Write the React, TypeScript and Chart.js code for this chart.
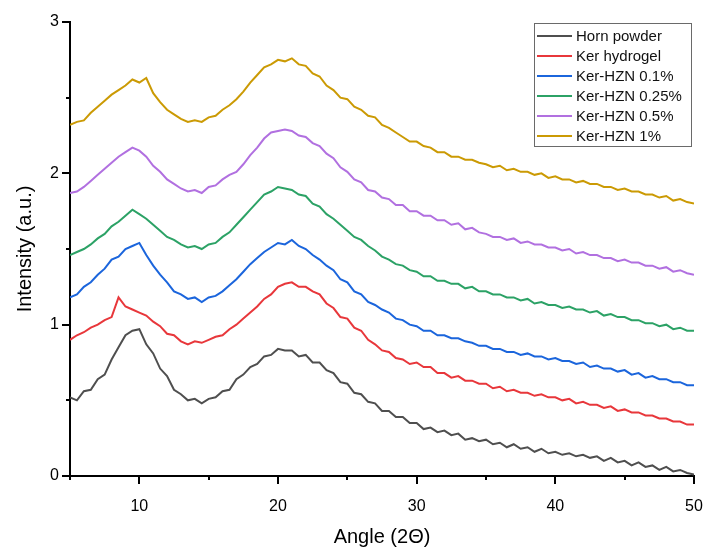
import React, { useEffect, useRef } from "react";
import { Chart, registerables } from "chart.js";

Chart.register(...registerables);

const FONT = "'Liberation Sans', Arial, sans-serif";

const ANGLE = [
  5, 5.5, 6, 6.5, 7, 7.5, 8, 8.5, 9, 9.5,
  10, 10.5, 11, 11.5, 12, 12.5, 13, 13.5, 14, 14.5,
  15, 15.5, 16, 16.5, 17, 17.5, 18, 18.5, 19, 19.5,
  20, 20.5, 21, 21.5, 22, 22.5, 23, 23.5, 24, 24.5,
  25, 25.5, 26, 26.5, 27, 27.5, 28, 28.5, 29, 29.5,
  30, 30.5, 31, 31.5, 32, 32.5, 33, 33.5, 34, 34.5,
  35, 35.5, 36, 36.5, 37, 37.5, 38, 38.5, 39, 39.5,
  40, 40.5, 41, 41.5, 42, 42.5, 43, 43.5, 44, 44.5,
  45, 45.5, 46, 46.5, 47, 47.5, 48, 48.5, 49, 49.5,
  50,
];

const HORN_POWDER = [
  0.52, 0.50, 0.56, 0.57, 0.64, 0.67, 0.77, 0.85, 0.93, 0.96,
  0.97, 0.87, 0.81, 0.71, 0.66, 0.57, 0.54, 0.50, 0.51, 0.48,
  0.51, 0.52, 0.56, 0.57, 0.64, 0.67, 0.72, 0.74, 0.79, 0.80,
  0.84, 0.83, 0.83, 0.79, 0.80, 0.75, 0.75, 0.70, 0.68, 0.62,
  0.61, 0.55, 0.54, 0.49, 0.48, 0.43, 0.43, 0.39, 0.39, 0.35,
  0.35, 0.31, 0.32, 0.29, 0.30, 0.27, 0.28, 0.24, 0.25, 0.23,
  0.24, 0.21, 0.22, 0.19, 0.21, 0.18, 0.19, 0.16, 0.18, 0.15,
  0.16, 0.14, 0.15, 0.13, 0.14, 0.12, 0.13, 0.10, 0.12, 0.09,
  0.10, 0.07, 0.09, 0.06, 0.07, 0.04, 0.06, 0.03, 0.04, 0.02,
  0.01,
];

const KER_HYDROGEL = [
  0.90, 0.93, 0.95, 0.98, 1.00, 1.03, 1.05, 1.18, 1.12, 1.10,
  1.08, 1.06, 1.02, 0.99, 0.94, 0.93, 0.89, 0.87, 0.89, 0.88,
  0.90, 0.92, 0.93, 0.97, 1.00, 1.04, 1.08, 1.12, 1.17, 1.20,
  1.25, 1.27, 1.28, 1.25, 1.25, 1.22, 1.20, 1.14, 1.11, 1.05,
  1.04, 0.98, 0.96, 0.90, 0.87, 0.83, 0.82, 0.78, 0.77, 0.74,
  0.75, 0.72, 0.72, 0.68, 0.68, 0.65, 0.66, 0.63, 0.63, 0.61,
  0.61, 0.58, 0.59, 0.56, 0.57, 0.55, 0.55, 0.53, 0.54, 0.52,
  0.52, 0.50, 0.51, 0.48, 0.49, 0.47, 0.47, 0.45, 0.46, 0.43,
  0.44, 0.42, 0.42, 0.40, 0.40, 0.38, 0.38, 0.36, 0.36, 0.34,
  0.34,
];

const KER_HZN_01 = [
  1.18, 1.20, 1.25, 1.28, 1.33, 1.37, 1.43, 1.45, 1.50, 1.52,
  1.54, 1.46, 1.39, 1.33, 1.28, 1.22, 1.20, 1.17, 1.18, 1.15,
  1.18, 1.19, 1.22, 1.26, 1.30, 1.35, 1.40, 1.44, 1.48, 1.51,
  1.54, 1.53, 1.56, 1.52, 1.50, 1.46, 1.43, 1.39, 1.36, 1.30,
  1.28, 1.22, 1.20, 1.15, 1.13, 1.10, 1.08, 1.04, 1.03, 1.00,
  0.99, 0.96, 0.96, 0.93, 0.93, 0.91, 0.91, 0.89, 0.88, 0.86,
  0.86, 0.84, 0.84, 0.82, 0.82, 0.80, 0.81, 0.79, 0.79, 0.77,
  0.78, 0.76, 0.76, 0.74, 0.75, 0.72, 0.73, 0.71, 0.71, 0.69,
  0.70, 0.67, 0.68, 0.65, 0.66, 0.64, 0.64, 0.62, 0.62, 0.60,
  0.60,
];

const KER_HZN_025 = [
  1.46, 1.48, 1.50, 1.53, 1.57, 1.60, 1.65, 1.68, 1.72, 1.76,
  1.73, 1.70, 1.66, 1.62, 1.58, 1.56, 1.53, 1.51, 1.52, 1.50,
  1.53, 1.54, 1.58, 1.61, 1.66, 1.71, 1.76, 1.81, 1.86, 1.88,
  1.91, 1.90, 1.89, 1.86, 1.85, 1.80, 1.78, 1.73, 1.70, 1.66,
  1.62, 1.58, 1.56, 1.52, 1.49, 1.45, 1.43, 1.40, 1.39, 1.36,
  1.35, 1.32, 1.32, 1.29, 1.29, 1.27, 1.27, 1.24, 1.25, 1.22,
  1.22, 1.20, 1.20, 1.18, 1.18, 1.16, 1.17, 1.14, 1.15, 1.13,
  1.13, 1.11, 1.12, 1.10, 1.10, 1.08, 1.09, 1.06, 1.07, 1.05,
  1.05, 1.03, 1.03, 1.01, 1.01, 0.99, 1.00, 0.97, 0.98, 0.96,
  0.96,
];

const KER_HZN_05 = [
  1.87, 1.88, 1.91, 1.95, 1.99, 2.03, 2.07, 2.11, 2.14, 2.17,
  2.15, 2.11, 2.05, 2.01, 1.96, 1.93, 1.90, 1.88, 1.89, 1.87,
  1.91, 1.92, 1.96, 1.99, 2.01, 2.06, 2.12, 2.17, 2.23, 2.27,
  2.28, 2.29, 2.28, 2.25, 2.24, 2.20, 2.18, 2.13, 2.10, 2.04,
  2.01, 1.96, 1.94, 1.89, 1.88, 1.84, 1.83, 1.79, 1.79, 1.75,
  1.75, 1.72, 1.72, 1.69, 1.69, 1.66, 1.67, 1.63, 1.64, 1.61,
  1.60, 1.58, 1.58, 1.56, 1.57, 1.54, 1.55, 1.53, 1.53, 1.51,
  1.51, 1.49, 1.50, 1.47, 1.48, 1.46, 1.46, 1.44, 1.44, 1.42,
  1.43, 1.41, 1.41, 1.39, 1.39, 1.37, 1.38, 1.35, 1.36, 1.34,
  1.33,
];

const KER_HZN_1 = [
  2.32, 2.34, 2.35, 2.40, 2.44, 2.48, 2.52, 2.55, 2.58, 2.62,
  2.60, 2.63, 2.53, 2.47, 2.42, 2.39, 2.36, 2.34, 2.35, 2.34,
  2.37, 2.38, 2.42, 2.45, 2.49, 2.54, 2.60, 2.65, 2.70, 2.72,
  2.75, 2.74, 2.76, 2.72, 2.71, 2.66, 2.64, 2.58, 2.55, 2.50,
  2.49, 2.44, 2.42, 2.38, 2.37, 2.32, 2.30, 2.27, 2.24, 2.21,
  2.21, 2.18, 2.17, 2.14, 2.14, 2.11, 2.11, 2.09, 2.09, 2.07,
  2.06, 2.04, 2.05, 2.02, 2.03, 2.01, 2.01, 1.99, 2.00, 1.97,
  1.98, 1.96, 1.96, 1.94, 1.95, 1.93, 1.93, 1.91, 1.91, 1.89,
  1.90, 1.88, 1.88, 1.86, 1.86, 1.84, 1.85, 1.82, 1.83, 1.81,
  1.80,
];

const SERIES_LABELS = [
  "Horn powder",
  "Ker hydrogel",
  "Ker-HZN 0.1%",
  "Ker-HZN 0.25%",
  "Ker-HZN 0.5%",
  "Ker-HZN 1%",
];
const SERIES_VALUES = [HORN_POWDER, KER_HYDROGEL, KER_HZN_01, KER_HZN_025, KER_HZN_05, KER_HZN_1];
const SERIES_COLORS = ["#4f4f4f", "#e8373b", "#1b65dc", "#2ca266", "#b170e0", "#cb9a04"];

const X_MAJOR_TICKS = [10, 20, 30, 40, 50];
const Y_MAJOR_TICKS = [0, 1, 2, 3];

const tickMarksPlugin = {
  id: "tickMarks",
  afterDraw(chart: any) {
    const { ctx, chartArea } = chart;
    const xs = chart.scales.x;
    const ys = chart.scales.y;
    ctx.save();
    ctx.strokeStyle = "#000";
    ctx.lineWidth = 2;
    xs.ticks.forEach((t: any) => {
      const px = Math.round(xs.getPixelForValue(t.value));
      const len = X_MAJOR_TICKS.includes(t.value) ? 8 : 4;
      ctx.beginPath();
      ctx.moveTo(px, chartArea.bottom);
      ctx.lineTo(px, chartArea.bottom + len);
      ctx.stroke();
    });
    ys.ticks.forEach((t: any) => {
      const py = Math.round(ys.getPixelForValue(t.value));
      const len = Y_MAJOR_TICKS.includes(t.value) ? 8 : 4;
      ctx.beginPath();
      ctx.moveTo(chartArea.left, py);
      ctx.lineTo(chartArea.left - len, py);
      ctx.stroke();
    });
    ctx.restore();
  },
};

const boxLegendPlugin = {
  id: "boxLegend",
  afterDraw(chart: any) {
    const { ctx, chartArea } = chart;
    const boxW = 157;
    const rowH = 20;
    const n = chart.data.datasets.length;
    const boxH = n * rowH + 3;
    const x0 = chartArea.right - 3 - boxW;
    const y0 = chartArea.top + 1;
    ctx.save();
    ctx.fillStyle = "#fff";
    ctx.fillRect(x0, y0, boxW, boxH);
    ctx.strokeStyle = "#6a6a6a";
    ctx.lineWidth = 1;
    ctx.strokeRect(x0 + 0.5, y0 + 0.5, boxW, boxH);
    ctx.font = `15px ${FONT}`;
    ctx.textBaseline = "middle";
    ctx.textAlign = "left";
    chart.data.datasets.forEach((ds: any, i: number) => {
      const cy = y0 + 13 + i * rowH;
      ctx.strokeStyle = ds.borderColor;
      ctx.lineWidth = 2;
      ctx.beginPath();
      ctx.moveTo(x0 + 3, cy);
      ctx.lineTo(x0 + 38, cy);
      ctx.stroke();
      ctx.fillStyle = "#111";
      ctx.fillText(ds.label, x0 + 42, cy + 1);
    });
    ctx.restore();
  },
};

export default function App() {
  const canvasRef = useRef<HTMLCanvasElement | null>(null);

  useEffect(() => {
    if (!canvasRef.current) return;
    const datasets = SERIES_LABELS.map((label, i) => ({
      label,
      data: ANGLE.map((a, j) => ({ x: a, y: SERIES_VALUES[i][j] })),
      borderColor: SERIES_COLORS[i],
      backgroundColor: SERIES_COLORS[i],
      borderWidth: 2,
      pointRadius: 0,
      tension: 0,
      fill: false,
    }));
    const chart = new Chart(canvasRef.current, {
      type: "line",
      data: { datasets },
      options: {
        responsive: false,
        animation: false,
        layout: { padding: { top: 22, right: 0, left: 0, bottom: 0 } },
        plugins: { legend: { display: false }, tooltip: { enabled: false } },
        scales: {
          x: {
            type: "linear",
            min: 5,
            max: 50,
            afterFit: (s: any) => {
              s.height = 76;
              s.paddingRight = 11;
              s.paddingLeft = 0;
            },
            border: { display: true, color: "#000", width: 2 },
            grid: { drawOnChartArea: false, drawTicks: true, tickLength: 8, color: "rgba(0,0,0,0)" },
            ticks: {
              stepSize: 5,
              padding: 13,
              color: "#000",
              maxRotation: 0,
              autoSkip: false,
              font: { size: 16, family: FONT },
              callback: (v: any) => (X_MAJOR_TICKS.includes(v) ? String(v) : ""),
            },
            title: {
              display: true,
              text: "Angle (2Θ)",
              color: "#000",
              font: { size: 20, family: FONT },
              padding: { top: 0, bottom: 3 },
            },
          },
          y: {
            type: "linear",
            min: 0,
            max: 3,
            afterFit: (s: any) => {
              s.width = 70;
            },
            border: { display: true, color: "#000", width: 2 },
            grid: { drawOnChartArea: false, drawTicks: true, tickLength: 8, color: "rgba(0,0,0,0)" },
            ticks: {
              stepSize: 0.5,
              padding: 3,
              color: "#000",
              autoSkip: false,
              font: { size: 16, family: FONT },
              callback: (v: any) => (Y_MAJOR_TICKS.includes(v) ? String(v) : ""),
            },
            title: {
              display: true,
              text: "Intensity (a.u.)",
              color: "#000",
              font: { size: 20, family: FONT },
              padding: { top: 13, bottom: 0 },
            },
          },
        },
      },
      plugins: [tickMarksPlugin, boxLegendPlugin],
    } as any);
    return () => chart.destroy();
  }, []);

  return (
    <div style={{ position: "absolute", left: 0, top: 0, width: 705, height: 552, background: "#fff" }}>
      <canvas ref={canvasRef} width={705} height={552} style={{ width: 705, height: 552, display: "block" }} />
    </div>
  );
}
